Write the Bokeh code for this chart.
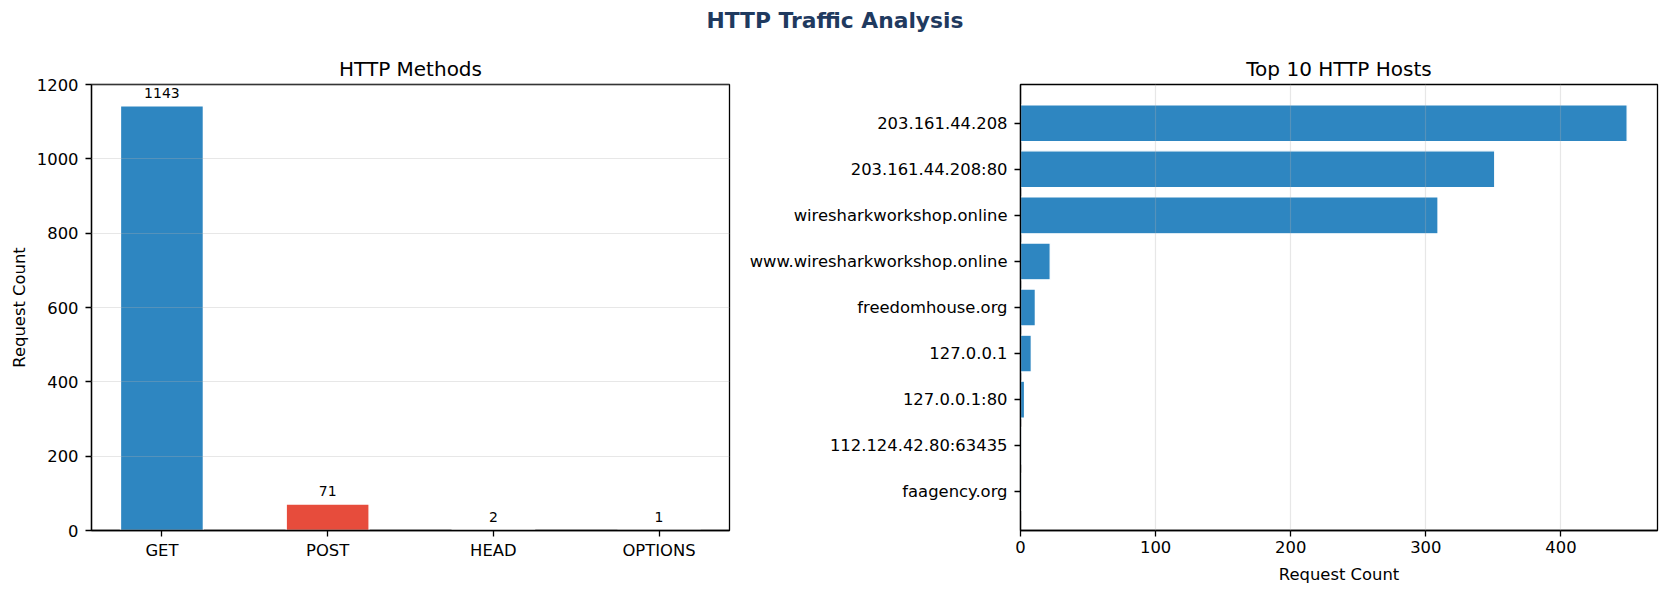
from bokeh.plotting import figure
from bokeh.models import Range1d, FixedTicker, Label, ColumnDataSource
from bokeh.layouts import column, row
from bokeh.embed import file_html
from bokeh.resources import INLINE
from bokeh.core.properties import value

# ---- data ----
methods = ["GET", "POST", "HEAD", "OPTIONS"]
method_counts = [1143, 71, 2, 1]
method_colors = ["#2E86C1", "#E74C3C", "#27AE60", "#F39C12"]

hosts = ["203.161.44.208", "203.161.44.208:80", "wiresharkworkshop.online",
         "www.wiresharkworkshop.online", "freedomhouse.org", "127.0.0.1",
         "127.0.0.1:80", "112.124.42.80:63435", "faagency.org"]
host_counts = [449, 351, 309, 22, 11, 8, 3, 1, 1]

y_ticks_left = [0, 200, 400, 600, 800, 1000, 1200]
x_ticks_right = [0, 100, 200, 300, 400]

FONT = "DejaVu Sans"
TICK_PX = "16.4px"


def style_axes(p):
    for ax in p.axis:
        ax.axis_line_color = "black"
        ax.axis_line_width = 1.3
        ax.major_tick_line_color = "black"
        ax.major_tick_line_width = 1.3
        ax.major_tick_in = 0
        ax.major_tick_out = 6
        ax.minor_tick_line_color = None
        ax.major_label_text_font = FONT
        ax.major_label_text_font_size = TICK_PX
        ax.major_label_text_color = "black"
        ax.axis_label_text_font = FONT
        ax.axis_label_text_font_size = TICK_PX
        ax.axis_label_text_font_style = "normal"
        ax.axis_label_text_color = "black"
    p.outline_line_color = "black"
    p.outline_line_width = 1.3
    p.title.text_font = FONT
    p.title.text_font_size = "20px"
    p.title.text_font_style = "normal"
    p.title.text_color = "black"
    p.title.align = "center"
    p.title.standoff = 7


# ---- super title strip ----
TW, TH = 1669, 48
tfig = figure(width=TW, height=TH, output_backend="svg", toolbar_location=None,
              x_range=Range1d(0, TW), y_range=Range1d(0, TH),
              x_axis_location=None, y_axis_location=None,
              min_border=0, min_border_left=0, min_border_right=0,
              min_border_top=0, min_border_bottom=0)
tfig.outline_line_color = None
tfig.grid.visible = False
tfig.add_layout(Label(x=834.5, y=TH - 19.7, text="HTTP Traffic Analysis",
                      text_font=FONT, text_font_size="21.8px",
                      text_font_style="bold", text_color="#1F3A5F",
                      text_align="center", text_baseline="alphabetic"))

# ---- left: HTTP methods ----
n_m = len(methods)
xm = list(range(n_m))
src_m = ColumnDataSource(dict(x=xm, top=method_counts, color=method_colors,
                              label=[str(v) for v in method_counts]))
p1 = figure(width=740, height=540, output_backend="svg", toolbar_location=None,
            title="HTTP Methods",
            x_range=Range1d(-0.425, n_m - 1 + 0.425),
            y_range=Range1d(0, max(method_counts) * 1.05),
            min_border_left=91, min_border_right=11,
            min_border_top=36, min_border_bottom=58)
p1.vbar(x="x", top="top", width=0.5, bottom=0, fill_color="color",
        line_color="white", line_width=1.3, source=src_m)
p1.text(x="x", y="top", text="label", source=src_m, text_align="center",
        text_baseline="alphabetic", y_offset=-13, text_font_size="14px",
        text_font=value(FONT), text_color="black")
p1.xaxis.ticker = FixedTicker(ticks=xm)
p1.xaxis.major_label_overrides = {i: m for i, m in enumerate(methods)}
p1.yaxis.ticker = FixedTicker(ticks=y_ticks_left)
p1.yaxis.axis_label = "Request Count"
p1.xgrid.visible = False
p1.ygrid.grid_line_color = "#b0b0b0"
p1.ygrid.grid_line_alpha = 0.3
p1.ygrid.grid_line_width = 1.2
p1.ygrid.level = "overlay"
style_axes(p1)
p1.xaxis.major_label_standoff = 4
p1.yaxis.major_label_standoff = 7
p1.yaxis.axis_label_standoff = 5

# ---- right: top hosts ----
n_h = len(hosts)
yh = [n_h - 1 - i for i in range(n_h)]
src_h = ColumnDataSource(dict(y=yh, right=host_counts))
pad = 0.05 * (n_h - 1 + 0.8)
p2 = figure(width=929, height=540, output_backend="svg", toolbar_location=None,
            title="Top 10 HTTP Hosts",
            x_range=Range1d(0, max(host_counts) * 1.05),
            y_range=Range1d(-0.4 - pad, n_h - 1 + 0.4 + pad),
            min_border_left=280, min_border_right=12,
            min_border_top=36, min_border_bottom=58)
p2.hbar(y="y", right="right", left=0, height=0.8, fill_color="#2E86C1",
        line_color="white", line_width=1.3, source=src_h)
p2.yaxis.ticker = FixedTicker(ticks=yh)
p2.yaxis.major_label_overrides = {y: h for y, h in zip(yh, hosts)}
p2.xaxis.ticker = FixedTicker(ticks=x_ticks_right)
p2.xaxis.axis_label = "Request Count"
p2.ygrid.visible = False
p2.xgrid.grid_line_color = "#b0b0b0"
p2.xgrid.grid_line_alpha = 0.3
p2.xgrid.grid_line_width = 1.2
p2.xgrid.level = "overlay"
style_axes(p2)
p2.xaxis.major_label_standoff = 4
p2.xaxis.axis_label_standoff = 9
p2.yaxis.major_label_standoff = 7

layout = column(tfig, row(p1, p2, spacing=0), spacing=0)
open("out.html", "w").write(file_html(layout, INLINE))
